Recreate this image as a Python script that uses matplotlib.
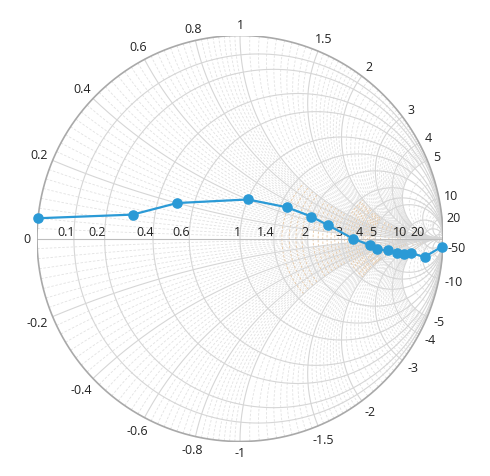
import numpy as np
import matplotlib.pyplot as plt

plt.rcParams['font.family'] = ['Open Sans', 'DejaVu Sans']

# impedance data (normalised resistance / reactance)
resistance = [0, 0.3, 0.5, 1.0, 1.5, 2.0, 2.5, 3.5, 4.5, 5, 6, 7, 8, 9.5, 10, 5]
reactance = [0.05, 0.1, 0.2, 0.4, 0.5, 0.5, 0.4, 0.0, -0.5, -1.0, -1.5, -2.5, -3.5, -4.8, -11, -50]

# axis values
r_major = [0.1, 0.2, 0.4, 0.6, 1, 1.4, 2, 3, 4, 5, 10, 20, 50]
r_labels = ['0.1', '0.2', '0.4', '0.6', '1', '1.4', '2', '3', '4', '5', '10', '20']
x_major = [0.2, 0.4, 0.6, 0.8, 1, 1.5, 2, 3, 4, 5, 10, 20, 50]
x_labels = ['0.2', '0.4', '0.6', '0.8', '1', '1.5', '2', '3', '4', '5', '10', '20',
            '-0.2', '-0.4', '-0.6', '-0.8', '-1', '-1.5', '-2', '-3', '-4', '-5', '-10', '-50']

MAJOR = '#d6d6d6'
MINOR = '#e2e2e2'
MINOR_TAN = '#e6c7a3'
OUTER = '#a9a9a9'
SERIES = '#2b9ad6'


def gamma(z):
    return (z - 1) / (z + 1)


def r_circle(r, xmax=None):
    if xmax is None:
        t = np.linspace(0, 2 * np.pi, 600)
        c, rad = r / (1 + r), 1 / (1 + r)
        return c + rad * np.cos(t), rad * np.sin(t)
    x = np.tan(np.linspace(-np.arctan(xmax), np.arctan(xmax), 400))
    g = gamma(r + 1j * x)
    return g.real, g.imag


def x_arc(x, rmax=1e5):
    r = np.tan(np.linspace(0, np.arctan(rmax), 500))
    g = gamma(r + 1j * x)
    return g.real, g.imag


def subdiv(vals, counts):
    out = []
    for a, b, n in zip(vals[:-1], vals[1:], counts):
        out += list(np.linspace(a, b, n + 1)[1:-1])
    return out


fig = plt.figure(figsize=(4.9, 4.77), dpi=100)
R = 203
cx, cy = 240, 239.5
ax = fig.add_axes([(cx - R) / 490, (477 - cy - R) / 477, 2 * R / 490, 2 * R / 477])
ax.set_xlim(-1, 1)
ax.set_ylim(-1, 1)
ax.axis('off')

# minor reactance arcs (grey dashed)
xb = [0] + x_major
xmin_vals = subdiv(xb, [8, 8, 8, 8, 8, 10, 10, 10, 10, 10, 5, 5, 3])
for xv in xmin_vals:
    if xv < 0.2:
        rl = 2
    elif xv < 1:
        rl = 5
    elif xv < 5:
        rl = 10
    else:
        rl = 20
    for s in (1, -1):
        u, v = x_arc(s * xv, rl)
        ax.plot(u, v, color=MINOR, lw=0.6, dashes=(3, 2), zorder=1)

# minor resistance circles (tan dashed)
rb = [1.4, 2, 3, 4, 5, 10, 20]
rmin_vals = subdiv(rb, [5, 8, 8, 8, 10, 5])
for rv in rmin_vals:
    xl = 1.0 if rv < 3 else 2.0 if rv < 10 else 5.0
    u, v = r_circle(rv, xl)
    ax.plot(u, v, color=MINOR_TAN, lw=0.6, dashes=(3, 2), zorder=1)

# major grid
for rv in r_major:
    u, v = r_circle(rv)
    ax.plot(u, v, color=MAJOR, lw=0.8, zorder=2)
for xv in x_major:
    for s in (1, -1):
        u, v = x_arc(s * xv)
        ax.plot(u, v, color=MAJOR, lw=0.8, zorder=2)
ax.plot([-1, 1], [0, 0], color='#bdbdbd', lw=0.8, zorder=2)
u, v = r_circle(0)
ax.plot(u, v, color=OUTER, lw=1.2, zorder=3)

# resistance labels
for rv, lab in zip(r_major, r_labels):
    ax.annotate(lab, (gamma(rv), 0), xytext=(1, 0), textcoords='offset pixels',
                ha='right', va='bottom', fontsize=9, color='#222222')
ax.annotate('0', (-1, 0), xytext=(-7, 0), textcoords='offset pixels',
            ha='right', va='center', fontsize=9, color='#222222')

# reactance labels around the rim
x_label_vals = x_major[:-1] + [-v for v in x_major[:10]] + [-10, -50]
for xv, lab in zip(x_label_vals, x_labels):
    g = gamma(1j * xv)
    th = np.angle(g)
    w = sum(3 if ch == '.' else 4 if ch == '-' else 6.5 for ch in lab)
    d = 5 + 0.5 * w * abs(np.cos(th)) + 6 * abs(np.sin(th))
    ax.annotate(lab, (g.real, g.imag), xytext=(d * np.cos(th), d * np.sin(th)),
                textcoords='offset pixels', ha='center', va='center',
                fontsize=9, color='#222222', annotation_clip=False)

# data series
z = np.array(resistance) + 1j * np.array(reactance)
g = gamma(z)
ax.plot(g.real, g.imag, color=SERIES, lw=1.6, marker='o',
        ms=6.6, zorder=5, clip_on=False)

fig.savefig('out.png', dpi=100)
